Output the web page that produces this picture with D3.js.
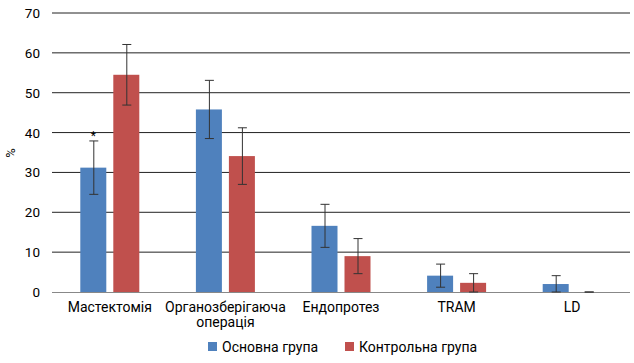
<!DOCTYPE html>
<html>
<head>
<meta charset="utf-8">
<script src="https://cdn.jsdelivr.net/npm/d3@7"></script>
<style>
  body { margin: 0; background: #fff; }
  text { font-family: Roboto, "Liberation Sans", sans-serif; fill: #000; }
</style>
</head>
<body>
<div class="chart"></div>
<script>
var categories = ["Мастектомія", "Органозберігаюча операція", "Ендопротез", "TRAM", "LD"];
var seriesNames = ["Основна група", "Контрольна група"];
var mainValues = [31.2, 45.8, 16.6, 4.1, 2.0];
var mainErrors = [6.7, 7.3, 5.4, 2.9, 2.1];
var controlValues = [54.5, 34.1, 9.0, 2.3, 0];
var controlErrors = [7.6, 7.1, 4.4, 2.3, 0];
var yTicks = [0, 10, 20, 30, 40, 50, 60, 70];
var colors = ["#4f81bd", "#c0504d"];

var width = 634,
    height = 363;

var x = d3.scaleBand()
    .domain(categories)
    .range([52, 630]);

var y = d3.scaleLinear()
    .domain([0, 70])
    .range([292, 13]);

var svg = d3.select(".chart").append("svg")
    .attr("width", width)
    .attr("height", height);

// gridlines
svg.selectAll(".grid")
    .data(yTicks.slice(1))
  .enter().append("line")
    .attr("class", "grid")
    .attr("x1", 52)
    .attr("x2", 630)
    .attr("y1", function(d){ return y(d); })
    .attr("y2", function(d){ return y(d); })
    .attr("stroke", "#222")
    .attr("stroke-width", 1);

// y axis labels
svg.selectAll(".ytick")
    .data(yTicks)
  .enter().append("text")
    .attr("class", "ytick")
    .attr("x", 40)
    .attr("y", function(d){ return y(d) + 5; })
    .attr("text-anchor", "end")
    .style("font-size", "13.5px")
    .text(function(d){ return d; });

svg.append("text")
    .attr("transform", "translate(15,153) rotate(-90)")
    .attr("text-anchor", "middle")
    .style("font-size", "13px")
    .text("%");

var rows = [];
categories.forEach(function(c, i){
  rows.push({cat: c, s: 0, v: mainValues[i], e: mainErrors[i]});
  rows.push({cat: c, s: 1, v: controlValues[i], e: controlErrors[i]});
});

var barW = 26, offset = 16.5;
var cx = function(d){ return x(d.cat) + x.bandwidth() / 2 + (d.s === 0 ? -offset : offset); };

svg.selectAll(".bar")
    .data(rows)
  .enter().append("rect")
    .attr("class", "bar")
    .attr("x", function(d){ return cx(d) - barW / 2; })
    .attr("y", function(d){ return y(d.v); })
    .attr("width", barW)
    .attr("height", function(d){ return y(0) - y(d.v); })
    .attr("fill", function(d){ return colors[d.s]; });

// baseline
svg.append("line")
    .attr("x1", 52).attr("x2", 630)
    .attr("y1", y(0) + 0.5).attr("y2", y(0) + 0.5)
    .attr("stroke", "#888");

// error bars
var err = svg.selectAll(".err")
    .data(rows)
  .enter().append("g")
    .attr("class", "err")
    .attr("stroke", "#333")
    .attr("stroke-width", 1);

err.append("line")
    .attr("x1", function(d){ return cx(d) + 0.5; })
    .attr("x2", function(d){ return cx(d) + 0.5; })
    .attr("y1", function(d){ return y(d.v + d.e); })
    .attr("y2", function(d){ return y(Math.max(0, d.v - d.e)); });

err.append("line")
    .attr("x1", function(d){ return cx(d) - 4; })
    .attr("x2", function(d){ return cx(d) + 5; })
    .attr("y1", function(d){ return y(d.v + d.e); })
    .attr("y2", function(d){ return y(d.v + d.e); });

err.append("line")
    .attr("x1", function(d){ return cx(d) - 4; })
    .attr("x2", function(d){ return cx(d) + 5; })
    .attr("y1", function(d){ return y(Math.max(0, d.v - d.e)); })
    .attr("y2", function(d){ return y(Math.max(0, d.v - d.e)); });

// significance star
svg.append("text")
    .attr("x", cx(rows[0]))
    .attr("y", y(mainValues[0] + mainErrors[0]) - 1)
    .attr("text-anchor", "middle")
    .style("font-size", "12px")
    .text("*");

// category labels
svg.selectAll(".cat")
    .data(categories)
  .enter().append("text")
    .attr("class", "cat")
    .attr("text-anchor", "middle")
    .style("font-size", "14px")
    .attr("x", function(d){ return x(d) + x.bandwidth() / 2; })
    .attr("y", 312)
    .each(function(d){
      var parts = d === "Органозберігаюча операція" ? ["Органозберігаюча", "операція"] : [d];
      var t = d3.select(this);
      parts.forEach(function(p, i){
        t.append("tspan")
          .attr("x", x(d) + x.bandwidth() / 2)
          .attr("dy", i === 0 ? 0 : 15)
          .text(p);
      });
    });

// legend
var legendX = [208, 345];
var lg = svg.selectAll(".legend")
    .data(seriesNames)
  .enter().append("g")
    .attr("class", "legend")
    .attr("transform", function(d, i){ return "translate(" + legendX[i] + ",342)"; });

lg.append("rect")
    .attr("width", 9).attr("height", 9)
    .attr("fill", function(d, i){ return colors[i]; });

lg.append("text")
    .attr("x", 14)
    .attr("y", 9.5)
    .style("font-size", "14px")
    .text(function(d){ return d; });
</script>
</body>
</html>
